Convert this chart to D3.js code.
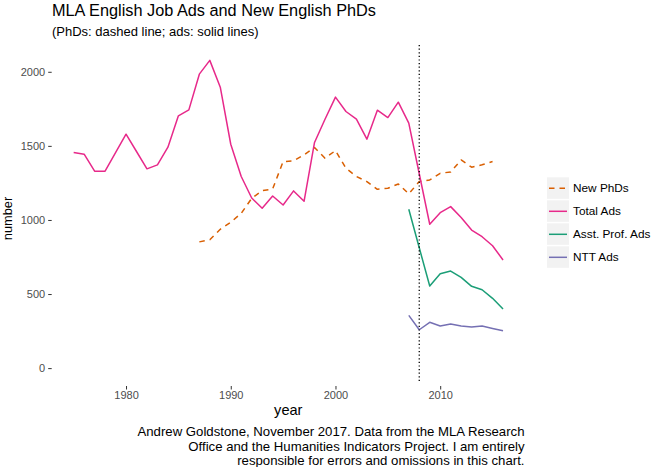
<!DOCTYPE html>
<html>
<head>
<meta charset="utf-8">
<script src="https://cdn.jsdelivr.net/npm/d3@7"></script>
<style>
  html, body { margin: 0; padding: 0; background: #fff; }
  svg { display: block; font-family: "Liberation Sans", Arial, Helvetica, sans-serif; }
</style>
</head>
<body>
<svg id="chart" width="651" height="467"></svg>
<script>
// ---- data ----
const totalYears = d3.range(1975, 2017);
const totalAds = [1455,1444,1329,1329,1454,1579,1462,1345,1372,1491,1703,1743,1984,2077,1896,1511,1293,1148,1079,1162,1101,1196,1126,1523,1680,1829,1732,1680,1545,1741,1691,1795,1653,1312,971,1049,1090,1016,932,887,826,730];
const phdYears = d3.range(1987, 2016);
const newPhDs = [852,866,937,984,1045,1146,1198,1209,1394,1399,1439,1489,1417,1468,1349,1293,1259,1207,1214,1243,1176,1259,1270,1315,1324,1405,1356,1372,1394];
const recentYears = d3.range(2007, 2017);
const asstProfAds = [1072,812,554,637,655,612,552,529,471,399];
const nttAds = [356,259,309,284,297,284,277,284,268,252];
const seriesNames = ["New PhDs", "Total Ads", "Asst. Prof. Ads", "NTT Ads"];
const seriesColors = ["#D95F02", "#E7298A", "#1B9E77", "#7570B3"];
const yTicks = [0, 500, 1000, 1500, 2000];
const xTicks = [1980, 1990, 2000, 2010];
const markerYear = 2008;
const titleText = "MLA English Job Ads and New English PhDs";
const subtitleText = "(PhDs: dashed line; ads: solid lines)";
const captionLines = [
  "Andrew Goldstone, November 2017. Data from the MLA Research",
  "Office and the Humanities Indicators Project. I am entirely",
  "responsible for errors and omissions in this chart."
];

// ---- layout ----
const panel = { left: 52.2, right: 524.5, top: 45, bottom: 383.5 };
const svg = d3.select("#chart");

const series = [
  { name: "New PhDs", years: phdYears, values: newPhDs, dashed: true },
  { name: "Total Ads", years: totalYears, values: totalAds, dashed: false },
  { name: "Asst. Prof. Ads", years: recentYears, values: asstProfAds, dashed: false },
  { name: "NTT Ads", years: recentYears, values: nttAds, dashed: false }
];
const color = d3.scaleOrdinal().domain(seriesNames).range(seriesColors);

const allYears = series.flatMap(s => s.years);
const allVals = series.flatMap(s => s.values).concat([0]);
const xExt = d3.extent(allYears), yExt = d3.extent(allVals);
const xPad = (xExt[1] - xExt[0]) * 0.05, yPad = (yExt[1] - yExt[0]) * 0.05;
const x = d3.scaleLinear().domain([xExt[0] - xPad, xExt[1] + xPad]).range([panel.left, panel.right]);
const y = d3.scaleLinear().domain([yExt[0] - yPad, yExt[1] + yPad]).range([panel.bottom, panel.top]);

// axes
const yAxis = d3.axisLeft(y).tickValues(yTicks).tickFormat(d3.format("d")).tickSize(3.5).tickPadding(3);
const gy = svg.append("g").attr("transform", `translate(${panel.left - 0.5},0)`).call(yAxis);
gy.select(".domain").remove();
gy.selectAll("line").attr("stroke", "#333").attr("stroke-width", 1);
gy.selectAll("text").attr("fill", "#4D4D4D").style("font-size", "11px");

const xAxis = d3.axisBottom(x).tickValues(xTicks).tickFormat(d3.format("d")).tickSize(3.5).tickPadding(2);
const gx = svg.append("g").attr("transform", `translate(0,${panel.bottom + 2.5})`).call(xAxis);
gx.select(".domain").remove();
gx.selectAll("line").attr("stroke", "#333").attr("stroke-width", 1);
gx.selectAll("text").attr("fill", "#4D4D4D").style("font-size", "11px");

// lines
const line = d3.line().x(d => x(d[0])).y(d => y(d[1]));
series.forEach(s => {
  svg.append("path")
    .datum(s.years.map((yr, i) => [yr, s.values[i]]))
    .attr("d", line)
    .attr("fill", "none")
    .attr("stroke", color(s.name))
    .attr("stroke-width", 1.5)
    .attr("stroke-linejoin", "round")
    .attr("stroke-dasharray", s.dashed ? "5.5,5" : null);
});

// vertical dotted marker
svg.append("line")
  .attr("x1", x(markerYear)).attr("x2", x(markerYear))
  .attr("y1", panel.top).attr("y2", panel.bottom)
  .attr("stroke", "#000").attr("stroke-width", 1.3)
  .attr("stroke-dasharray", "1.2,2.4");

// axis titles
svg.append("text").attr("x", 288.3).attr("y", 415)
  .attr("text-anchor", "middle").style("font-size", "14.6px").text("year");
svg.append("text").attr("transform", `translate(11.5,${218.5}) rotate(-90)`)
  .attr("text-anchor", "middle").style("font-size", "12.8px").text("number");

// title
svg.append("text").attr("x", 52).attr("y", 16).style("font-size", "16.3px").text(titleText);
svg.append("text").attr("x", 52).attr("y", 36).style("font-size", "13px").text(subtitleText);

// caption
captionLines.forEach((t, i) => {
  svg.append("text").attr("x", panel.right).attr("y", 436 + i * 14.5)
    .attr("text-anchor", "end").style("font-size", "13.2px").text(t);
});

// legend
const lg = svg.append("g");
seriesNames.forEach((n, i) => {
  const cy = 188.3 + i * 23;
  lg.append("rect").attr("x", 547).attr("y", cy - 11).attr("width", 22).attr("height", 21.5).attr("fill", "#F2F2F2");
  lg.append("line").attr("x1", 549).attr("x2", 567).attr("y1", cy).attr("y2", cy)
    .attr("stroke", color(n)).attr("stroke-width", 1.5)
    .attr("stroke-dasharray", n === "New PhDs" ? "5.5,5" : null);
  lg.append("text").attr("x", 573).attr("y", cy + 4).style("font-size", "11.8px").text(n);
});
</script>
</body>
</html>
